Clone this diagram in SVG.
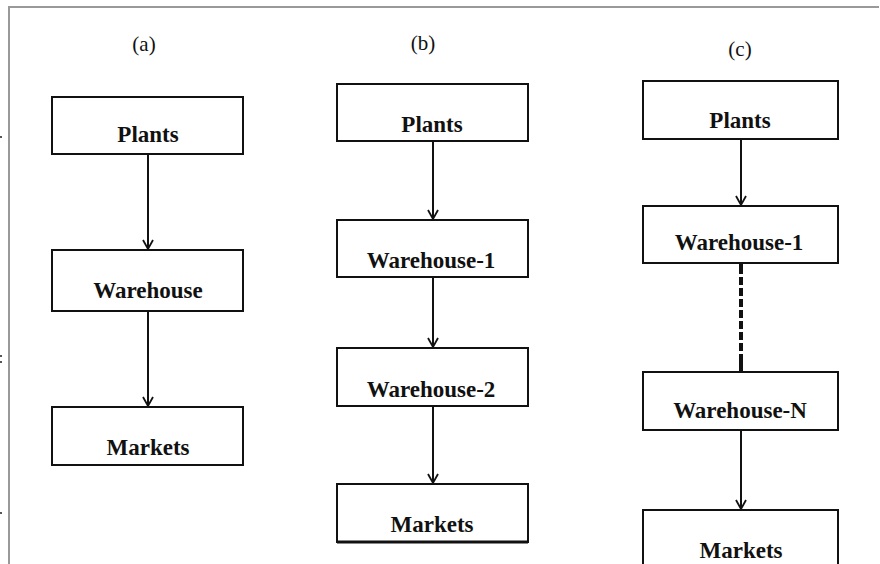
<svg xmlns="http://www.w3.org/2000/svg" width="880" height="564" viewBox="0 0 880 564">
<style>
.box{fill:#fff;stroke:#111;stroke-width:2}
.lbl{font-family:"Liberation Serif","Times New Roman",serif;font-size:23px;font-weight:bold;fill:#111;text-anchor:middle}
.cap{font-family:"Liberation Serif","Times New Roman",serif;font-size:21px;fill:#111;text-anchor:middle}
.ln{stroke:#111;stroke-width:2;fill:none}
.frame{stroke:#999;stroke-width:2;fill:none}
</style>
<defs>
<marker id="arr" markerUnits="userSpaceOnUse" markerWidth="14" markerHeight="14" viewBox="-11 -7 14 14" refX="0" refY="0" orient="auto">
<path d="M-9,-5 L0,0 L-9,5" fill="none" stroke="#111" stroke-width="1.8"/>
</marker>
</defs>
<rect width="880" height="564" fill="#fff"/>
<path class="frame" d="M9,564 V7 H879"/>
<g fill="#555">
<rect x="0" y="136" width="2" height="2"/>
<rect x="0" y="355" width="2" height="2"/>
<rect x="0" y="361" width="2" height="2"/>
<rect x="0" y="512" width="2" height="2"/>
</g>
<text class="cap" x="144" y="51">(a)</text>
<text class="cap" x="423" y="50">(b)</text>
<text class="cap" x="740" y="56">(c)</text>
<g id="connectors">
<line class="ln" x1="148" y1="154" x2="148" y2="249" marker-end="url(#arr)"/>
<line class="ln" x1="148" y1="311" x2="148" y2="406" marker-end="url(#arr)"/>
<line class="ln" x1="433" y1="141" x2="433" y2="219" marker-end="url(#arr)"/>
<line class="ln" x1="433" y1="277" x2="433" y2="347" marker-end="url(#arr)"/>
<line class="ln" x1="433" y1="406" x2="433" y2="483" marker-end="url(#arr)"/>
<line class="ln" x1="741" y1="139" x2="741" y2="205" marker-end="url(#arr)"/>
<line x1="741" y1="263" x2="741" y2="372" stroke="#111" stroke-width="4" stroke-dasharray="11 3 8 3 8 3 8 3 8 3 8 3 8 3 8 3 20"/>
<line class="ln" x1="741" y1="430" x2="741" y2="509" marker-end="url(#arr)"/>
</g>
<g id="a-plants"><rect class="box" x="52" y="97" width="191" height="57"/><text class="lbl" x="148" y="142">Plants</text></g>
<g id="a-warehouse"><rect class="box" x="52" y="250" width="191" height="61"/><text class="lbl" x="148" y="298">Warehouse</text></g>
<g id="a-markets"><rect class="box" x="52" y="407" width="191" height="58"/><text class="lbl" x="148" y="455">Markets</text></g>
<g id="b-plants"><rect class="box" x="337" y="84" width="191" height="57"/><text class="lbl" x="432" y="132">Plants</text></g>
<g id="b-warehouse1"><rect class="box" x="337" y="220" width="191" height="57"/><text class="lbl" x="431" y="268">Warehouse-1</text></g>
<g id="b-warehouse2"><rect class="box" x="337" y="348" width="191" height="58"/><text class="lbl" x="431" y="397">Warehouse-2</text></g>
<g id="b-markets"><rect class="box" x="337" y="484" width="191" height="58"/><line x1="337" y1="542" x2="528" y2="542" stroke="#111" stroke-width="3"/><text class="lbl" x="432" y="532">Markets</text></g>
<g id="c-plants"><rect class="box" x="643" y="81" width="195" height="58"/><text class="lbl" x="740" y="128">Plants</text></g>
<g id="c-warehouse1"><rect class="box" x="643" y="206" width="195" height="57"/><text class="lbl" x="739" y="250">Warehouse-1</text></g>
<g id="c-warehouseN"><rect class="box" x="643" y="372" width="195" height="58"/><text class="lbl" x="740" y="418">Warehouse-N</text></g>
<g id="c-markets"><rect class="box" x="643" y="510" width="195" height="70"/><text class="lbl" x="741" y="558">Markets</text></g>
</svg>
